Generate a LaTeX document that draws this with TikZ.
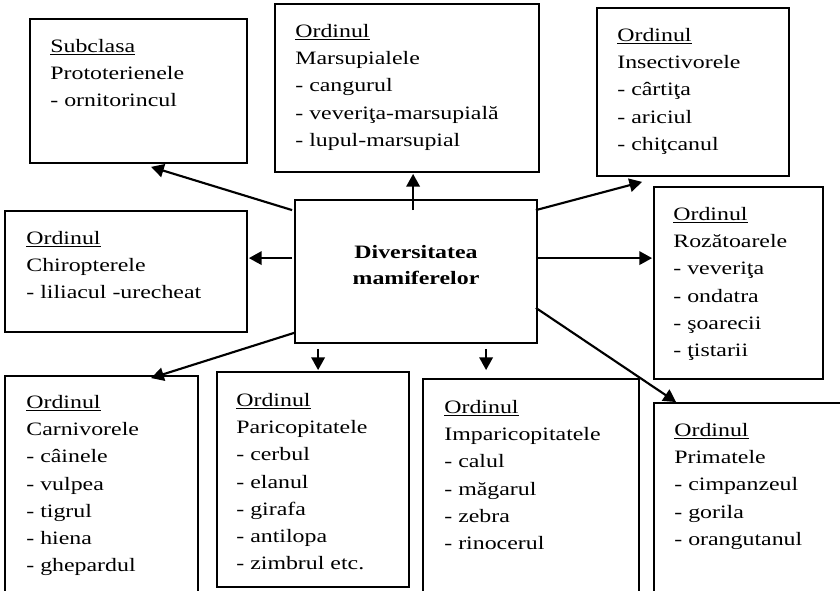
\documentclass[tikz,border=0pt]{standalone}
\usepackage{fontspec}
\setmainfont{Liberation Serif}[FakeStretch=1.26]
\usepackage{tikz}
\usetikzlibrary{arrows.meta,calc,fit}

\begin{document}
\begin{tikzpicture}[
  x=0.75pt, y=-0.75pt,
  >={Triangle[length=9.5pt,width=10pt]},
  bx/.style={draw, line width=1.35pt, inner sep=0pt},
  tx/.style={anchor=north west, inner sep=0pt, align=left,
             font=\fontsize{14.2}{20.4}\selectfont},
  ar/.style={->, line width=1.6pt},
]
\useasboundingbox (0,0) rectangle (840,591);
\clip (0,0) rectangle (840,591);

% boxes
\node[bx, fit={(295,200) (537,343)}, align=center,
      font=\bfseries\fontsize{14.2}{19.5}\selectfont] (div) {Diversitatea\\mamiferelor};
\node[bx, fit={(30,19) (247,163)}]   (sub)  {};
\node[bx, fit={(275,4) (539,172)}]   (mars) {};
\node[bx, fit={(597,8) (789,176)}]   (ins)  {};
\node[bx, fit={(654,187) (823,379)}] (roz)  {};
\node[bx, fit={(5,211) (247,332)}]   (chir) {};
\node[bx, fit={(5,376) (198,600)}]   (carn) {};
\node[bx, fit={(217,372) (409,587)}] (pari) {};
\node[bx, fit={(423,379) (639,600)}] (imp)  {};
\node[bx, fit={(654,403) (850,600)}] (prim) {};

% texts
\node[tx] (subT) at ($(sub.north west)+(21,21)$)
  {\underline{Subclasa}\\Prototerienele\\- ornitorincul};
\node[tx] (marsT) at ($(mars.north west)+(21,21)$)
  {\underline{Ordinul}\\Marsupialele\\- cangurul\\- veveriţa-marsupială\\- lupul-marsupial};
\node[tx] (insT) at ($(ins.north west)+(21,21)$)
  {\underline{Ordinul}\\Insectivorele\\- cârtiţa\\- ariciul\\- chiţcanul};
\node[tx] (rozT) at ($(roz.north west)+(20,21)$)
  {\underline{Ordinul}\\Rozătoarele\\- veveriţa\\- ondatra\\- şoarecii\\- ţistarii};
\node[tx] (chirT) at ($(chir.north west)+(22,21)$)
  {\underline{Ordinul}\\Chiropterele\\- liliacul -urecheat};
\node[tx] (carnT) at ($(carn.north west)+(22,20)$)
  {\underline{Ordinul}\\Carnivorele\\- câinele\\- vulpea\\- tigrul\\- hiena\\- ghepardul};
\node[tx] (pariT) at ($(pari.north west)+(20,22)$)
  {\underline{Ordinul}\\Paricopitatele\\- cerbul\\- elanul\\- girafa\\- antilopa\\- zimbrul etc.};
\node[tx] (impT) at ($(imp.north west)+(22,22)$)
  {\underline{Ordinul}\\Imparicopitatele\\- calul\\- măgarul\\- zebra\\- rinocerul};
\node[tx] (primT) at ($(prim.north west)+(21,21)$)
  {\underline{Ordinul}\\Primatele\\- cimpanzeul\\- gorila\\- orangutanul};

% arrows
\draw[ar] ($(div.north west)+(-2,11)$) -- ($(sub.south west)+(122,3)$);
\draw[ar] ($(div.north west)+(119,11)$) -- ($(mars.south west)+(139,1)$);
\draw[ar] ($(div.north west)+(-2,59)$) -- ($(chir.north east)+(1,48)$);
\draw[ar] ($(div.north east)+(-2,11)$) -- ($(ins.south west)+(46,5)$);
\draw[ar] ($(div.north east)+(-2,59)$) -- ($(roz.north west)+(-1,72)$);
\draw[ar] ($(div.south west)+(0,-11)$) -- ($(carn.north west)+(147,3)$);
\draw[ar] ($(div.south west)+(24,5)$) -- ($(pari.north west)+(102,-1)$);
\draw[ar] ($(div.south west)+(192,5)$) -- ($(imp.north west)+(64,-8)$);
\draw[ar] ($(div.south east)+(-2,-36)$) -- ($(prim.north west)+(23,0)$);
\end{tikzpicture}
\end{document}
